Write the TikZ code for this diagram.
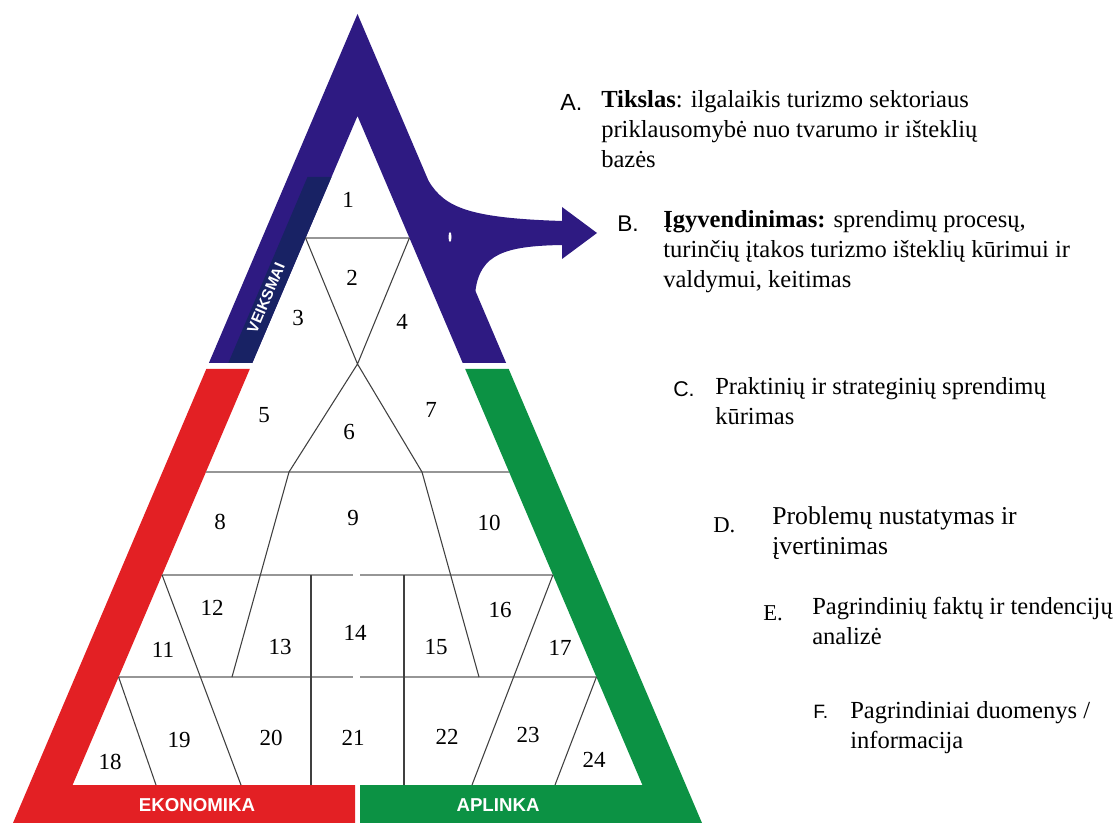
\documentclass[tikz,border=0pt]{standalone}
\usepackage{fontspec}
\setmainfont{Liberation Serif}
\newfontfamily\arialfont{Liberation Sans}
\definecolor{bandblue}{RGB}{46,26,130}
\definecolor{stripblue}{RGB}{24,34,100}
\definecolor{bandred}{RGB}{227,32,36}
\definecolor{bandgreen}{RGB}{12,146,68}
\definecolor{gridgray}{RGB}{150,150,150}

\begin{document}
\begin{tikzpicture}[x=0.75pt, y=-0.75pt,
    cell/.style={inner sep=0pt, font=\fontsize{17.25}{17.25}\selectfont},
    sepline/.style={gridgray, line width=1.5pt},
    cutline/.style={black!75, line width=0.8pt},
    bandlabel/.style={white, inner sep=0pt, font=\arialfont\bfseries\fontsize{14}{14}\selectfont},
    letter/.style={anchor=base west, inner sep=0pt, font=\arialfont\fontsize{#1}{#1}\selectfont},
    serifletter/.style={anchor=base west, inner sep=0pt, font=\fontsize{17}{17}\selectfont},
    descr/.style={anchor=base west, inner sep=0pt, align=left, font=\fontsize{#1}{22.5}\selectfont},
    descr/.default=18.4]
    \fill[white] (0,0) rectangle (1117,823);
    \useasboundingbox (0,0) rectangle (1117,823);

    % frame of the pyramid
    \fill[bandblue] (208.9,363) -- (357.5,14) -- (506.1,363) -- (462.7,363) -- (357.5,116) -- (252.3,363) -- cycle;
    \fill[bandblue] (405,181) -- (428.6,181) .. controls (445,208) and (470,218) .. (562,221) -- (562,207) -- (597,233) -- (562,259) -- (562,245) .. controls (505,246) and (480,254) .. (475.4,291) -- (445,291) -- cycle;
    \fill[white] (450,237) ellipse (1.5 and 5);
    \fill[stripblue] (307.5,177) -- (331.5,177) -- (252.3,363) -- (228.3,363) -- cycle;
    \fill[bandred] (206.3,369) -- (13,823) -- (355,823) -- (355,785) -- (72.6,785) -- (249.8,369) -- cycle;
    \fill[bandgreen] (508.7,369) -- (702,823) -- (360,823) -- (360,785) -- (642.4,785) -- (465.2,369) -- cycle;
    \node[bandlabel, rotate=67, font=\arialfont\bfseries\fontsize{11.5}{11.5}\selectfont] (veiksmai) at (266,298) {VEIKSMAI};
    \node[bandlabel] (ekonomika) at (197,805) {EKONOMIKA};
    \node[bandlabel] (aplinka) at (498,805) {APLINKA};

    % inner division
    \draw[sepline] (305.6,238) -- (409.4,238);
    \draw[sepline] (205.9,472) -- (509.1,472);
    \draw[sepline] (162.1,575) -- (353,575);
    \draw[sepline] (360,575) -- (552.9,575);
    \draw[sepline] (118.6,677) -- (353,677);
    \draw[sepline] (360,677) -- (596.4,677);
    \draw[cutline] (305.6,238) -- (357.5,364) -- (409.4,238);
    \draw[cutline] (289,472) -- (357.5,364) -- (422,472);
    \draw[cutline] (289,472) -- (232,677);
    \draw[cutline] (422,472) -- (479,677);
    \draw[cutline] (162.1,575) -- (241,785);
    \draw[cutline] (552.9,575) -- (472,785);
    \draw[cutline] (118.6,677) -- (156,785);
    \draw[cutline] (596.4,677) -- (555,785);
    \draw[cutline] (311,575) -- (311,785);
    \draw[cutline] (404,575) -- (404,785);

    \node[cell] (c1) at (348,200) {1};
    \node[cell] (c2) at (352,278) {2};
    \node[cell] (c3) at (298,318) {3};
    \node[cell] (c4) at (402,322) {4};
    \node[cell] (c5) at (264,415) {5};
    \node[cell] (c6) at (349,432) {6};
    \node[cell] (c7) at (431,410) {7};
    \node[cell] (c8) at (220,522) {8};
    \node[cell] (c9) at (353,518) {9};
    \node[cell] (c10) at (489,523) {10};
    \node[cell] (c11) at (163,650) {11};
    \node[cell] (c12) at (212,608) {12};
    \node[cell] (c13) at (280,647) {13};
    \node[cell] (c14) at (355,633) {14};
    \node[cell] (c15) at (436,647) {15};
    \node[cell] (c16) at (500,610) {16};
    \node[cell] (c17) at (560,648) {17};
    \node[cell] (c18) at (110,762) {18};
    \node[cell] (c19) at (179,740) {19};
    \node[cell] (c20) at (271,738) {20};
    \node[cell] (c21) at (353,738) {21};
    \node[cell] (c22) at (447,737) {22};
    \node[cell] (c23) at (528,735) {23};
    \node[cell] (c24) at (594,760) {24};

    % levels A-F (text nodes sit on the baseline of their last line)
    \node[letter=17.5] (la) at (560,111) {A.};
    \node[descr] (ta) at (601,168) {\textbf{Tikslas}: ilgalaikis turizmo sektoriaus\\priklausomybė nuo tvarumo ir išteklių\\bazės};
    \node[letter=17] (lb) at (617,232) {B.};
    \node[descr] (tb) at (663,288) {\textbf{Įgyvendinimas:} sprendimų procesų,\\turinčių įtakos turizmo išteklių kūrimui ir\\valdymui, keitimas};
    \node[letter=16] (lc) at (673,397) {C.};
    \node[descr] (tc) at (715,424) {Praktinių ir strateginių sprendimų\\kūrimas};
    \node[serifletter] (ld) at (713,532) {D.};
    \node[descr=19.3] (td) at (772,554) {Problemų nustatymas ir\\įvertinimas};
    \node[serifletter] (le) at (763,620) {E.};
    \node[descr] (te) at (812,644) {Pagrindinių faktų ir tendencijų\\analizė};
    \node[letter=14.5] (lf) at (813,718) {F.};
    \node[descr] (tf) at (850,748) {Pagrindiniai duomenys /\\informacija};
\end{tikzpicture}
\end{document}
